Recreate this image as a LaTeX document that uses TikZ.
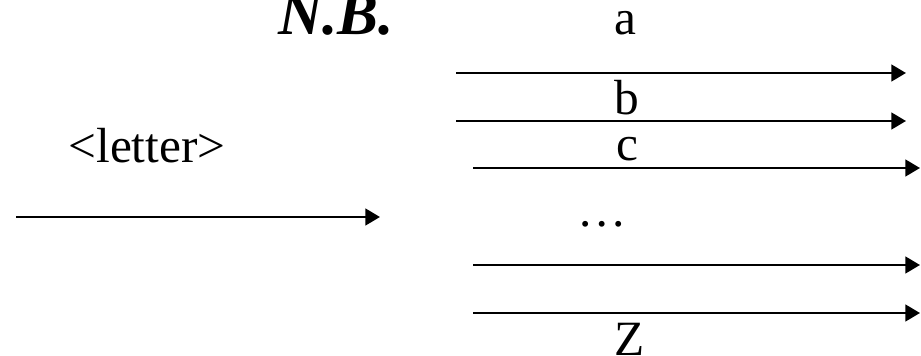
\documentclass[tikz,border=0pt]{standalone}
\usepackage{fontspec}
\setmainfont{Liberation Serif}
\usetikzlibrary{arrows.meta}
\tikzset{
  flow/.style={-{Triangle[length=11pt,width=12.5pt]},line width=1.9pt,black},
  lbl/.style={anchor=base,inner sep=0pt,font=\fontsize{37}{44}\selectfont},
}

\begin{document}
\begin{tikzpicture}[x=0.75pt,y=-0.75pt]
  \path[use as bounding box] (0,0) rectangle (921,356);
  \fill[white] (0,0) rectangle (921,356);

  \node[lbl,font=\fontsize{46}{54}\selectfont\bfseries\itshape] (nb) at (336,35) {N.B.};

  % input side
  \node[lbl] (letter) at (147,163) {<letter>};
  \coordinate (in0) at (16,217);
  \coordinate (in1) at (380,217);
  \draw[flow] (in0) -- (in1);

  % one arrow per letter
  \foreach \n/\xa/\xb/\y in {a/456/906/73,b/456/906/121,c/473/920/168,d/473/920/265,z/473/920/313}{
    \coordinate (\n0) at (\xa,\y);
    \coordinate (\n1) at (\xb,\y);
    \draw[flow] (\n0) -- (\n1);
  }
  \node[lbl] (la) at (625,35) {a};
  \node[lbl] (lb) at (627,115) {b};
  \node[lbl] (lc) at (627,161) {c};
  \node[lbl] (ldots) at (602,226) {…};
  \node[lbl] (lz) at (630,355) {Z};
\end{tikzpicture}
\end{document}
